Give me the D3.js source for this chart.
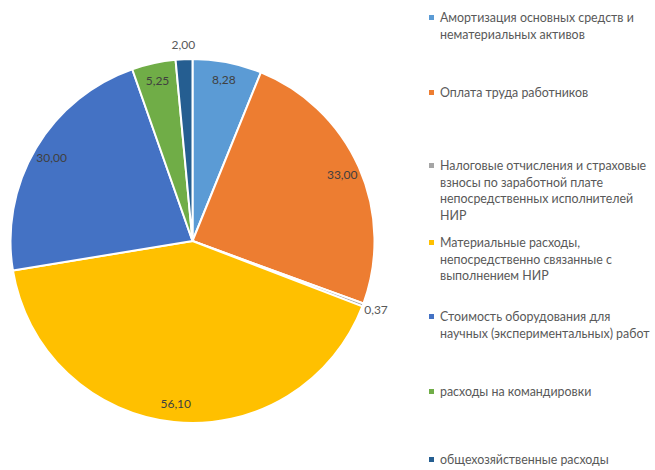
<!DOCTYPE html>
<html>
<head>
<meta charset="utf-8">
<script src="https://cdn.jsdelivr.net/npm/d3@7"></script>
<style>
  html, body { margin: 0; padding: 0; background: #fff; }
  svg { display: block; }
</style>
</head>
<body>
<svg id="chart" width="655" height="470"></svg>
<script>
// Cost structure of the research project
const categories = [
  ["Амортизация основных средств и", "нематериальных активов"],
  ["Оплата труда работников"],
  ["Налоговые отчисления и страховые", "взносы по заработной плате", "непосредственных исполнителей", "НИР"],
  ["Материальные расходы,", "непосредственно связанные с", "выполнением НИР"],
  ["Стоимость оборудования для", "научных (экспериментальных) работ"],
  ["расходы на командировки"],
  ["общехозяйственные расходы"]
];
const values = [8.28, 33.00, 0.37, 56.10, 30.00, 5.25, 2.00];
const colors = ["#5B9BD5", "#ED7D31", "#A5A5A5", "#FFC000", "#4472C4", "#70AD47", "#255E91"];
// labels placed outside the slice (too small to fit inside)
const outsideLabels = [false, false, true, false, false, false, true];
const legendRowY = [18, 93, 166, 243, 317, 392, 460];

const svg = d3.select("#chart");
const font = "Lato, 'Open Sans', sans-serif";
const cx = 192.5, cy = 241, r = 182;

const pie = d3.pie().sort(null).value(d => d)(values);
const arc = d3.arc().innerRadius(0).outerRadius(r);
const fmt = v => d3.format(".2f")(v).replace(".", ",");

const g = svg.append("g").attr("transform", `translate(${cx},${cy})`);

g.selectAll("path.slice")
  .data(pie)
  .join("path")
  .attr("class", "slice")
  .attr("d", arc)
  .attr("fill", (d, i) => colors[i])
  .attr("stroke", "#fff")
  .attr("stroke-width", 2)
  .attr("stroke-linejoin", "round");

const inArc = d3.arc().innerRadius(r * 0.9).outerRadius(r * 0.9);
const outArc = d3.arc().innerRadius(r + 14).outerRadius(r + 14);

g.selectAll("text.val")
  .data(pie)
  .join("text")
  .attr("class", "val")
  .attr("transform", (d, i) => `translate(${(outsideLabels[i] ? outArc : inArc).centroid(d)})`)
  .attr("text-anchor", "middle")
  .attr("dy", "0.35em")
  .attr("font-family", font)
  .attr("font-size", 12)
  .attr("fill", (d, i) => outsideLabels[i] ? "#595959" : "#404040")
  .text(d => fmt(d.data));

// Legend
const legend = svg.append("g");
categories.forEach((lines, i) => {
  const y0 = legendRowY[i];
  legend.append("rect")
    .attr("x", 429).attr("y", y0 - 3)
    .attr("width", 5).attr("height", 5)
    .attr("fill", colors[i]);
  const t = legend.append("text")
    .attr("x", 440).attr("y", y0)
    .attr("font-family", font)
    .attr("font-size", 12.4)
    .attr("fill", "#595959");
  lines.forEach((ln, k) => {
    t.append("tspan").attr("x", 440).attr("dy", k === 0 ? "0.35em" : 16.5).text(ln);
  });
});
</script>
</body>
</html>
